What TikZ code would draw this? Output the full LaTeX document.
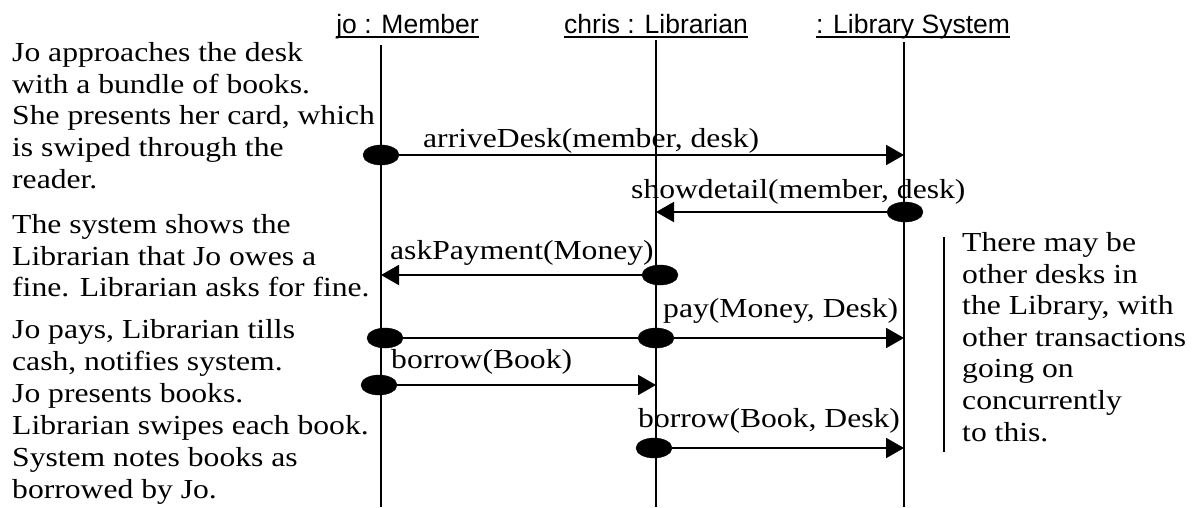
\documentclass[tikz,border=0pt]{standalone}
\usepackage{fontspec}
\setmainfont{Liberation Serif}[FakeStretch=1.15]
\newfontfamily\headfont{Liberation Sans}
\usetikzlibrary{shapes.geometric, arrows.meta}
\newcommand{\objname}[1]{\setbox0\hbox{#1}\rlap{\rule[-4.5pt]{\wd0}{1.6pt}}\box0}

\begin{document}
\begin{tikzpicture}[x=1pt, y=-1pt,
    lifeline/.style={line width=2pt},
    msg/.style={line width=2pt, -{Triangle[length=18pt, width=20pt]}},
    act/.style={ellipse, fill=black, draw=black, inner sep=0pt, minimum width=36pt, minimum height=20pt},
    obj/.style={anchor=base, inner sep=0pt, font=\headfont\fontsize{26.5}{30}\selectfont},
    lbl/.style={anchor=base west, inner sep=0pt, font=\fontsize{27.5}{31.6}\selectfont},
    story/.style={anchor=base west, inner sep=0pt, align=left, font=\fontsize{27.5}{31.6}\selectfont}]
    \useasboundingbox (0,0) rectangle (1198,507);

    % Objects
    \node[obj] (jo) at (407.5,33) {\objname{jo : Member}};
    \node[obj] (chris) at (656,33) {\objname{chris : Librarian}};
    \node[obj] (sys) at (913,33) {\objname{: Library System}};

    % Lifelines
    \coordinate (jotop) at (381,45);
    \coordinate (jobot) at (381,507);
    \coordinate (chtop) at (656,40);
    \coordinate (chbot) at (656,507);
    \coordinate (sytop) at (904,42);
    \coordinate (sybot) at (904,507);
    \draw[lifeline] (jotop) -- (jobot);
    \draw[lifeline] (chtop) -- (chbot);
    \draw[lifeline] (sytop) -- (sybot);

    % Activations
    \node[act] (arrive) at (381,155) {};
    \node[act] (show) at (905,212) {};
    \node[act] (ask) at (660,275) {};
    \node[act] (payjo) at (385,338) {};
    \node[act] (paylib) at (656,338) {};
    \node[act] (borjo) at (379,385) {};
    \node[act] (borlib) at (654,448) {};

    % Messages
    \coordinate (arrivetip) at (904,155);
    \coordinate (showtip) at (656,212);
    \coordinate (asktip) at (381,275);
    \coordinate (paytip) at (904,338);
    \coordinate (bortip) at (656,385);
    \coordinate (borsystip) at (904,448);
    \draw[msg] (arrive) -- (arrivetip);
    \draw[msg] (show) -- (showtip);
    \draw[msg] (ask) -- (asktip);
    \draw[line width=2pt] (payjo) -- (paylib);
    \draw[msg] (paylib) -- (paytip);
    \draw[msg] (borjo) -- (bortip);
    \draw[msg] (borlib) -- (borsystip);

    \node[lbl] (arrivelbl) at (423,147) {arriveDesk(member, desk)};
    \node[lbl] (showlbl) at (631,198) {showdetail(member, desk)};
    \node[lbl] (asklbl) at (390,259) {askPayment(Money)};
    \node[lbl] (paylbl) at (663,317) {pay(Money, Desk)};
    \node[lbl] (borlbl) at (391,368) {borrow(Book)};
    \node[lbl] (borsyslbl) at (638,427) {borrow(Book, Desk)};

    % Script on the left (placed by last baseline)
    \node[story] (desc1) at (12,188) {Jo approaches the desk\\with a bundle of books.\\She presents her card, which\\is swiped through the\\reader.};
    \node[story] (desc2) at (12,296.7) {The system shows the\\Librarian that Jo owes a\\fine. Librarian asks for fine.};
    \node[story, font=\fontsize{27.5}{32}\selectfont] (desc3) at (12,498) {Jo pays, Librarian tills\\cash, notifies system.\\Jo presents books.\\Librarian swipes each book.\\System notes books as\\borrowed by Jo.};

    % Side note
    \coordinate (bartop) at (944,237);
    \coordinate (barbot) at (944,452);
    \draw[lifeline] (bartop) -- (barbot);
    \node[story] (aside) at (962,441) {There may be\\other desks in\\the Library, with\\other transactions\\going on\\concurrently\\to this.};
\end{tikzpicture}
\end{document}
